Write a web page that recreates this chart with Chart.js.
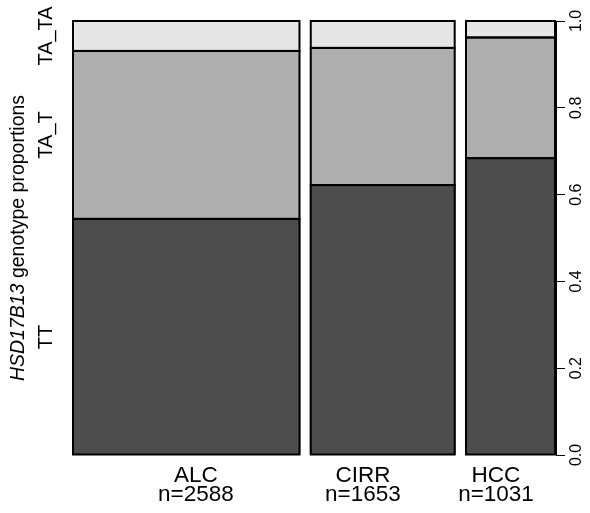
<!DOCTYPE html>
<html>
<head>
<meta charset="utf-8">
<script src="https://cdn.jsdelivr.net/npm/chart.js@4/dist/chart.umd.min.js"></script>
<style>
  html, body { margin: 0; padding: 0; background: #fff; }
  #wrap { width: 590px; height: 513px; }
</style>
</head>
<body>
<div id="wrap"><canvas id="chart"></canvas></div>
<script>
const groups = ["ALC", "CIRR", "HCC"];
const groupN = [2588, 1653, 1031];
const genotypes = ["TT", "TA_T", "TA_TA"];
const propTT = [0.544, 0.622, 0.684];
const propTAT = [0.387, 0.316, 0.278];
const propTATA = [0.069, 0.062, 0.038];
const yTicks = [0, 0.2, 0.4, 0.6, 0.8, 1.0];

const colors = ["#4d4d4d", "#aeaeae", "#e6e6e6"];
const FONT = "'Liberation Sans', Arial, Helvetica, sans-serif";
// where the group labels sit, as a share of the x range
const labelFrac = [0.256, 0.601, 0.876];

// spineplot x extents: widths proportional to n, 2% gaps
const totalN = groupN.reduce((a, b) => a + b, 0);
const gap = 0.02 * totalN;
const xStart = [];
const xEnd = [];
let pos = 0;
groupN.forEach((n) => {
  xStart.push(pos);
  xEnd.push(pos + n);
  pos += n + gap;
});
const xMax = xEnd[xEnd.length - 1];
const centers = xStart.map((s, i) => (s + xEnd[i]) / 2);

const props = [propTT, propTAT, propTATA];
const datasets = genotypes.map((g, k) => {
  return {
    label: g,
    data: groups.map((_, i) => {
      let lo = 0;
      for (let j = 0; j < k; j++) lo += props[j][i];
      return { x: centers[i], y: [lo, lo + props[k][i]] };
    }),
    backgroundColor: colors[k],
    borderWidth: 0,
    inflateAmount: 0,
    grouped: false,
  };
});

// make each bar span its own n-proportional width on the x scale,
// then outline every tile like R's spineplot does
const spineWidths = {
  id: "spineWidths",
  afterDatasetsUpdate(chart) {
    const xs = chart.scales.x;
    chart.data.datasets.forEach((ds, d) => {
      const meta = chart.getDatasetMeta(d);
      meta.data.forEach((el, i) => {
        const p0 = xs.getPixelForValue(xStart[i]);
        const p1 = xs.getPixelForValue(xEnd[i]);
        el.x = (p0 + p1) / 2;
        el.width = p1 - p0;
      });
    });
  },
  afterDatasetsDraw(chart) {
    const ctx = chart.ctx;
    ctx.save();
    ctx.strokeStyle = "#000";
    ctx.lineWidth = 2;
    chart.data.datasets.forEach((ds, d) => {
      chart.getDatasetMeta(d).data.forEach((el) => {
        const { x, y, base, width } = el.getProps(["x", "y", "base", "width"]);
        const top = Math.min(y, base);
        const h = Math.abs(base - y);
        ctx.strokeRect(x - width / 2 + 1, top, width - 2, h);
      });
    });
    ctx.restore();
  },
};

// left side: genotype labels at the ALC segment middles + y title
const leftLabels = {
  id: "leftLabels",
  afterDraw(chart) {
    const ctx = chart.ctx;
    const ys = chart.scales.y;
    ctx.save();
    ctx.fillStyle = "#000";
    ctx.textBaseline = "middle";
    ctx.textAlign = "center";
    ctx.font = "20px " + FONT;
    let lo = 0;
    genotypes.forEach((g, k) => {
      const mid = lo + props[k][0] / 2;
      lo += props[k][0];
      ctx.save();
      ctx.translate(46, ys.getPixelForValue(mid));
      ctx.rotate(-Math.PI / 2);
      ctx.fillText(g, 0, 0);
      ctx.restore();
    });

    const cy = (chart.chartArea.top + chart.chartArea.bottom) / 2;
    const part1 = "HSD17B13";
    const part2 = " genotype proportions";
    const f1 = "italic 19.5px " + FONT;
    const f2 = "19.5px " + FONT;
    ctx.font = f1;
    const w1 = ctx.measureText(part1).width;
    ctx.font = f2;
    const w2 = ctx.measureText(part2).width;
    ctx.translate(19, cy);
    ctx.rotate(-Math.PI / 2);
    ctx.textAlign = "left";
    ctx.font = f1;
    ctx.fillText(part1, -(w1 + w2) / 2, 0);
    ctx.font = f2;
    ctx.fillText(part2, -(w1 + w2) / 2 + w1, 0);
    ctx.restore();
  },
};

new Chart(document.getElementById("chart"), {
  type: "bar",
  data: { datasets: datasets },
  options: {
    responsive: true,
    maintainAspectRatio: false,
    animation: false,
    layout: { padding: { left: 72, top: 21, right: 0, bottom: 0 } },
    plugins: {
      legend: { display: false },
      tooltip: { enabled: false },
    },
    scales: {
      x: {
        type: "linear",
        offset: false,
        min: 0,
        max: xMax,
        afterBuildTicks: (s) => {
          s.ticks = labelFrac.map((f) => ({ value: f * xMax }));
        },
        ticks: {
          autoSkip: false,
          maxRotation: 0,
          padding: 3,
          color: "#000",
          font: { size: 22.5, family: FONT, lineHeight: 0.84 },
          callback: (v, i) => [groups[i], "n=" + groupN[i]],
        },
        grid: { display: false },
        border: { display: false },
        afterFit: (s) => {
          s.height = 58;
        },
      },
      y: {
        position: "right",
        min: 0,
        max: 1,
        afterBuildTicks: (s) => {
          s.ticks = yTicks.map((v) => ({ value: v }));
        },
        ticks: {
          minRotation: 90,
          maxRotation: 90,
          crossAlign: "center",
          padding: 0,
          color: "#000",
          font: { size: 16, family: FONT },
          callback: (v) => v.toFixed(1),
        },
        grid: {
          drawOnChartArea: false,
          drawTicks: true,
          tickLength: 9,
          color: "#000",
          lineWidth: 1,
        },
        border: { display: true, color: "#000", width: 1 },
        afterFit: (s) => {
          s.width = 34;
        },
      },
    },
  },
  plugins: [spineWidths, leftLabels],
});
</script>
</body>
</html>
